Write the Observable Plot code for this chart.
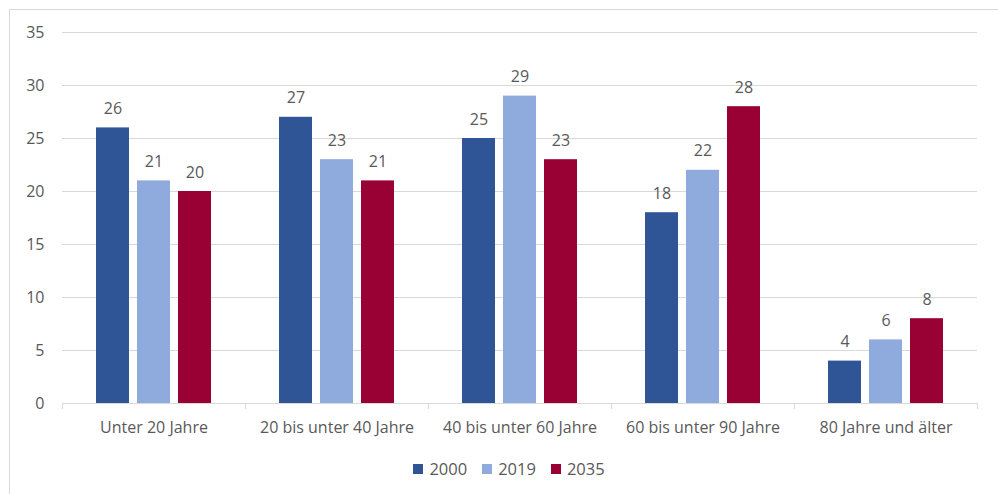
<!DOCTYPE html>
<html>
<head>
<meta charset="utf-8">
<script src="https://cdn.jsdelivr.net/npm/d3@7"></script>
<script src="https://cdn.jsdelivr.net/npm/@observablehq/plot@0.6"></script>
<style>
  html, body { margin: 0; padding: 0; background: #fff; }
  #wrap { position: relative; width: 998px; height: 494px; overflow: hidden; font-family: "Open Sans", sans-serif; }
  #frame { position: absolute; left: 9px; top: 9px; width: 1000px; height: 600px; border-left: 1px solid #d9d9d9; border-top: 1px solid #d9d9d9; pointer-events: none; }
  #legend { position: absolute; left: 10px; top: 457px; width: 998px; display: flex; justify-content: center; gap: 15px; font-size: 16.5px; color: #595959; }
  #legend .item { display: flex; align-items: center; gap: 6px; }
  #legend .sw { width: 10px; height: 10px; display: inline-block; }
</style>
</head>
<body>
<div id="wrap">
  <div id="chart"></div>
  <div id="legend"></div>
  <div id="frame"></div>
</div>
<script>
const categories = ["Unter 20 Jahre", "20 bis unter 40 Jahre", "40 bis unter 60 Jahre", "60 bis unter 90 Jahre", "80 Jahre und älter"];
const series = ["2000", "2019", "2035"];
const values2000 = [26, 27, 25, 18, 4];
const values2019 = [21, 23, 29, 22, 6];
const values2035 = [20, 21, 23, 28, 8];
const colors = ["#2F5597", "#8FAADC", "#990033"];
const yTicks = [0, 5, 10, 15, 20, 25, 30, 35];

const seriesValues = [values2000, values2019, values2035];
const data = [];
categories.forEach((c, i) => {
  series.forEach((s, j) => data.push({category: c, series: s, value: seriesValues[j][i]}));
});

const width = 998, height = 450, marginTop = 32, marginBottom = 47, marginLeft = 60, marginRight = 20;
const plotH = height - marginTop - marginBottom;
const fs = 16;

const chart = Plot.plot({
  width, height, marginTop, marginBottom, marginLeft, marginRight,
  style: {fontFamily: "'Open Sans', sans-serif", fontSize: fs + "px", color: "#595959", background: "#fff"},
  fx: {domain: categories, padding: 0, label: null, axis: null},
  x: {domain: series, paddingInner: 0.2, paddingOuter: 0.82, axis: null},
  y: {domain: [0, 35], ticks: yTicks, label: null, axis: null},
  color: {domain: series, range: colors},
  marks: [
    Plot.gridY(yTicks, {stroke: "#d9d9d9", strokeOpacity: 1}),
    Plot.axisY(yTicks, {tickSize: 0, tickPadding: 18, fontSize: fs, label: null, fill: "#595959"}),
    Plot.axisFx({anchor: "bottom", tickSize: 0, tickPadding: 18, fontSize: fs, label: null, fill: "#595959"}),
    Plot.barY(data, {fx: "category", x: "series", y: "value", fill: "series"}),
    Plot.text(data, {fx: "category", x: "series", y: "value", text: d => String(d.value), dy: -14, lineAnchor: "bottom", fontSize: fs, fill: "#595959"}),
    Plot.frame({anchor: "bottom", stroke: "#d9d9d9"}),
    Plot.frame({anchor: "left", stroke: "#d9d9d9", insetTop: plotH, insetBottom: -5}),
    Plot.frame({anchor: "right", stroke: "#d9d9d9", insetTop: plotH, insetBottom: -5})
  ]
});
document.getElementById("chart").appendChild(chart);

const legend = document.getElementById("legend");
series.forEach((s, i) => {
  const item = document.createElement("span");
  item.className = "item";
  item.innerHTML = `<span class="sw" style="background:${colors[i]}"></span><span>${s}</span>`;
  legend.appendChild(item);
});
</script>
</body>
</html>
